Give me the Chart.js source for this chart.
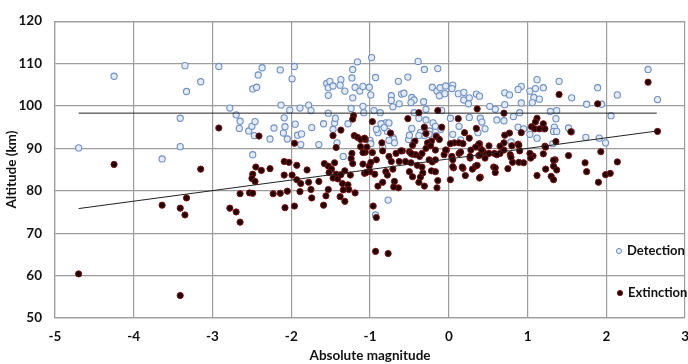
<!DOCTYPE html>
<html>
<head>
<meta charset="utf-8">
<script src="https://cdn.jsdelivr.net/npm/chart.js@4.4.0/dist/chart.umd.min.js"></script>
<style>
html,body{margin:0;padding:0;overflow:hidden;background:#fff;width:688px;height:364px;}
canvas{display:block;}
</style>
</head>
<body>
<canvas id="c" width="700" height="364"></canvas>
<script>
const xTicks = [-5, -4, -3, -2, -1, 0, 1, 2, 3];
const yTicks = [50, 60, 70, 80, 90, 100, 110, 120];
const seriesNames = ['Detection', 'Extinction'];

const detX = [-4.70,-4.25,-3.35,-2.92,-3.15,-3.33,-2.78,-2.70,-2.65,-2.66,-2.54,-3.41,-3.41,-3.64,-1.16,-1.22,-2.37,-2.42,-2.14,-1.96,
-1.99,-2.49,-2.44,-2.50,-2.46,-2.47,-2.27,-2.22,-2.13,-2.09,-2.08,-2.10,-2.05,-2.02,-1.95,-1.92,-1.87,-1.89,-1.78,-1.75,
-1.74,-1.88,-1.65,-1.59,-1.53,-1.47,-1.45,-1.44,-1.42,-1.28,-1.24,-1.09,-1.55,-1.51,-1.53,-1.47,-1.53,-1.37,-1.38,-1.32,
-1.23,-1.19,-1.13,-1.09,-1.22,-1.08,-0.98,-0.39,-0.31,-0.14,-0.93,-0.52,-0.64,-1.01,-0.99,-0.73,-0.73,-0.60,-0.57,-0.63,
-0.71,-0.47,-0.44,-0.48,-0.32,-0.21,-0.15,-0.11,-0.12,-0.05,-0.04,0.05,0.04,0.12,0.19,0.19,0.26,0.25,0.35,0.39,
0.52,0.59,0.71,0.71,0.61,0.26,0.40,0.42,0.46,0.37,0.02,0.13,0.05,0.15,-0.20,-0.17,-0.24,-0.29,-0.38,-0.44,
-0.47,-0.36,-0.31,-0.51,-0.80,-0.78,-0.90,-0.71,-1.00,-0.95,-0.87,-0.29,-0.09,1.12,1.40,1.89,2.14,0.92,0.88,1.03,
1.10,1.20,0.77,1.08,1.15,1.06,0.92,1.56,1.75,1.94,1.29,1.37,0.90,0.82,1.36,2.06,0.70,0.88,0.95,1.20,
1.34,1.33,1.37,1.52,1.56,1.03,1.12,0.79,1.32,1.74,1.91,1.99,2.53,2.65,-0.77,-0.93,-2.49,-1.34,-0.92,-0.86,
-0.82,-0.76,-0.99,-0.84,-0.70,-0.69,-0.76,-0.50,-0.38,-0.25,-0.16,-0.10];
const detY = [90.1,107.0,109.5,109.3,105.7,103.4,99.5,97.9,96.4,94.7,94.1,97.1,90.4,87.5,110.4,108.6,109.0,107.3,108.5,109.3,
106.4,104.0,104.4,95.2,96.3,93.0,92.2,94.8,100.2,97.2,95.1,93.6,92.2,99.0,95.7,93.1,93.4,99.5,100.2,98.9,
94.9,90.9,90.9,95.8,98.3,94.5,96.0,97.1,91.3,95.8,99.4,99.9,105.3,105.8,104.3,104.7,102.5,106.2,104.9,103.5,
106.6,104.4,103.5,104.6,101.9,98.4,111.4,110.5,108.6,108.8,106.7,106.8,105.8,104.4,102.6,102.4,101.3,102.8,103.0,100.5,
99.8,102.0,101.4,100.8,101.0,104.4,103.5,104.3,102.4,102.9,104.7,104.9,104.1,102.9,103.2,101.4,101.9,100.5,102.8,102.3,
99.9,99.2,103.1,100.3,96.7,97.3,97.1,96.2,94.6,93.7,97.1,95.2,93.3,92.0,96.0,95.2,94.1,96.7,97.1,98.4,
94.7,93.7,93.0,92.1,96.0,94.0,93.7,92.6,91.9,98.9,98.4,99.2,98.9,106.2,105.8,104.3,102.6,104.6,103.9,103.5,
104.1,104.3,102.6,102.0,101.6,100.8,100.7,101.9,100.4,100.4,98.7,98.9,98.4,97.5,97.0,97.7,96.5,95.0,94.6,94.6,
95.0,94.0,94.0,94.8,93.9,93.3,92.4,91.5,91.1,92.6,92.4,91.3,108.6,101.5,77.8,74.3,88.5,88.1,94.5,95.8,
94.9,96.0,91.1,90.3,92.2,91.3,91.9,93.1,93.0,93.3,93.0,94.5];

const extX = [-2.92,-4.25,-3.15,-3.64,-3.41,-3.35,-3.33,-4.70,-3.41,-2.78,-2.70,-2.65,-2.65,-2.41,-1.96,-1.21,-1.22,-1.37,-1.47,-1.20,
-1.16,-1.12,-1.06,-0.38,-0.14,0.36,0.70,0.12,-0.52,-0.97,-0.31,-0.09,0.35,-0.74,0.20,-0.29,-0.16,0.26,-0.12,-0.43,
-0.22,-0.85,-1.07,-0.27,0.07,0.13,0.39,0.51,0.70,1.40,1.89,1.12,1.10,1.20,1.05,1.09,1.15,1.22,0.77,0.92,
0.71,1.55,1.36,0.88,1.22,2.53,2.65,1.23,1.93,1.73,2.14,1.75,1.90,1.99,2.05,1.52,1.12,1.23,1.33,1.37,
1.30,1.33,1.20,1.07,1.03,1.35,0.90,0.89,0.80,0.70,0.58,0.40,0.38,0.18,0.02,0.04,0.06,0.02,0.18,0.21,
0.30,0.34,0.40,0.38,0.44,0.46,0.27,0.13,0.59,0.57,0.75,0.81,0.89,0.95,0.78,0.65,0.79,1.04,1.33,-0.97,
-0.92,-1.01,-1.00,-1.07,-0.90,-0.84,-0.80,-0.78,-0.76,-0.73,-0.71,-0.69,-0.64,-0.70,-0.63,-0.59,-0.55,-0.50,-0.46,-0.48,
-0.46,-0.42,-0.37,-0.40,-0.34,-0.33,-0.36,-0.31,-0.25,-0.21,-0.22,-0.29,-0.23,-0.17,-0.14,-0.15,-0.17,-0.03,-0.06,0.05,
0.05,0.15,0.17,0.27,0.36,0.34,0.40,0.39,0.42,0.51,0.59,0.65,-0.50,-0.67,-0.84,-1.06,-0.46,-2.09,-2.03,-2.09,
-1.99,-2.27,-2.38,-2.45,-2.49,-2.50,-2.46,-2.53,-2.49,-2.23,-2.14,-2.05,-2.08,-1.96,-1.89,-1.93,-1.88,-1.80,-1.78,-1.75,
-1.74,-1.65,-1.58,-1.53,-1.49,-1.52,-1.43,-1.47,-1.41,-1.53,-1.56,-1.59,-1.35,-1.28,-1.27,-1.34,-1.38,-1.32,-1.19,-1.25,
-1.37,-1.23,-1.24,-1.43,-1.12,-1.09,-1.05,-1.09,-0.96,-0.92,-0.93,-0.77,-0.38,-1.04,-0.17,-0.48,-0.61,-0.34,-0.04,-1.45,
-1.93,-1.32,-1.22,-0.99,-0.94,0.28,0.61];
const extY = [94.8,86.2,85.1,76.6,75.9,74.3,78.3,60.4,55.3,75.9,75.0,79.3,72.6,92.9,91.2,97.7,96.9,94.3,93.0,93.0,
92.6,92.1,92.1,98.4,98.9,99.3,98.3,97.0,97.0,96.3,95.0,95.0,94.7,93.6,93.7,93.5,92.8,92.4,92.1,91.7,
91.7,91.3,92.4,91.3,91.3,91.3,91.1,90.6,91.3,102.7,100.5,97.1,96.2,95.8,95.1,94.6,94.6,94.6,93.6,93.7,
93.1,93.9,91.6,91.0,90.5,105.6,94.0,90.3,89.2,86.6,86.8,84.5,82.0,83.8,84.1,88.3,83.6,85.1,85.8,84.9,
83.4,82.6,88.7,88.2,88.8,87.3,89.4,90.7,90.6,89.6,88.8,90.0,91.0,91.1,91.1,88.1,85.4,82.6,85.3,83.6,
85.1,85.8,83.2,88.3,89.1,87.7,87.7,88.8,84.3,85.6,85.2,86.7,86.7,86.6,88.5,90.5,87.9,87.7,87.2,89.0,
87.3,85.8,84.5,84.1,81.1,82.0,84.5,83.7,88.1,86.9,85.1,82.2,80.7,80.9,86.9,89.4,86.9,84.5,83.3,86.6,
88.6,88.5,88.1,86.0,85.6,84.2,83.2,81.1,87.3,86.8,84.7,90.0,90.6,84.5,82.4,80.7,87.3,89.6,88.5,87.3,
85.7,89.1,85.6,88.1,86.0,90.3,88.5,83.0,89.6,88.8,85.4,88.8,89.2,88.8,89.4,89.1,90.7,86.9,86.7,83.7,
83.7,85.2,84.8,85.6,83.9,82.9,82.2,79.5,79.4,79.3,79.4,79.9,76.0,76.4,79.8,82.6,81.7,84.9,82.0,80.3,
78.3,82.2,86.4,85.8,85.1,84.3,83.9,83.0,82.8,80.3,78.8,76.6,81.7,81.4,80.3,80.2,78.6,77.5,79.5,83.7,
83.8,88.8,87.6,90.2,90.4,86.3,84.3,89.0,76.4,73.7,65.7,65.2,82.0,90.3,89.6,88.8,89.4,88.8,89.6,86.6,
86.0,84.7,86.4,86.7,83.9,89.6,88.5];

const meanLineX = [-4.70, 2.64];
const meanLineY = [98.3, 98.3];
const fitLineX = [-4.70, 2.65];
const fitLineY = [75.8, 94.1];

const pts = (xs, ys) => xs.map((x, i) => ({x: x, y: ys[i]}));

const detStyle = {bg: '#e3ecf7', border: '#6f8fc2'};
const extStyle = {bg: '#250000', border: '#7a1414'};
const FONT = 'Lato, "Liberation Sans", sans-serif';
const TXT = '#111';
const GRID = '#9c9c9c';

const legendPlugin = {
  id: 'inLegend',
  afterDraw(chart) {
    const ctx = chart.ctx;
    ctx.save();
    ctx.font = 'bold 13px ' + FONT;
    ctx.textBaseline = 'middle';
    ctx.textAlign = 'left';
    ctx.beginPath();
    ctx.arc(619, 251, 2.6, 0, Math.PI * 2);
    ctx.fillStyle = detStyle.bg; ctx.fill();
    ctx.lineWidth = 1; ctx.strokeStyle = detStyle.border; ctx.stroke();
    ctx.fillStyle = TXT;
    ctx.fillText(seriesNames[0], 627, 251);
    ctx.beginPath();
    ctx.arc(620, 293, 2.6, 0, Math.PI * 2);
    ctx.fillStyle = extStyle.bg; ctx.fill();
    ctx.strokeStyle = extStyle.border; ctx.stroke();
    ctx.fillStyle = TXT;
    ctx.fillText(seriesNames[1], 628, 293);
    ctx.restore();
  }
};

const tickFont = {family: FONT, size: 13.5, weight: 'bold'};

new Chart(document.getElementById('c'), {
  type: 'scatter',
  data: {
    datasets: [
      {type: 'line', data: pts(meanLineX, meanLineY), borderColor: '#222', borderWidth: 1, pointRadius: 0, fill: false},
      {type: 'line', data: pts(fitLineX, fitLineY), borderColor: '#222', borderWidth: 1, pointRadius: 0, fill: false},
      {label: seriesNames[1], data: pts(extX, extY), backgroundColor: extStyle.bg, borderColor: extStyle.border, borderWidth: 1, pointRadius: 3.1},
      {label: seriesNames[0], data: pts(detX, detY), backgroundColor: detStyle.bg, borderColor: detStyle.border, borderWidth: 1.1, pointRadius: 3.1}
    ]
  },
  options: {
    responsive: false,
    animation: false,
    events: [],
    layout: {padding: {left: 0, right: 11, top: 9, bottom: 0}},
    plugins: {legend: {display: false}, tooltip: {enabled: false}},
    scales: {
      x: {
        type: 'linear', min: -5, max: 3,
        afterBuildTicks(s) { s.ticks = xTicks.map(v => ({value: v})); },
        afterFit(s) { s.height = 46; },
        grid: {color: GRID, lineWidth: 1.2, drawTicks: false},
        border: {color: GRID, width: 1.2},
        ticks: {padding: 11, color: TXT, font: tickFont, maxRotation: 0},
        title: {display: true, text: 'Absolute magnitude', color: TXT, font: tickFont, padding: {top: 0, bottom: 0}}
      },
      y: {
        type: 'linear', min: 50, max: 120,
        afterBuildTicks(s) { s.ticks = yTicks.map(v => ({value: v})); },
        afterFit(s) { s.width = 55; },
        grid: {color: GRID, lineWidth: 1.2, drawTicks: false},
        border: {color: GRID, width: 1.2},
        ticks: {padding: 13, color: TXT, font: tickFont},
        title: {display: true, text: 'Altitude (km)', color: TXT, font: tickFont, padding: {top: 4, bottom: 0}}
      }
    }
  },
  plugins: [legendPlugin, {
    id: 'topBorder',
    afterDraw(chart) {
      const a = chart.chartArea, ctx = chart.ctx;
      ctx.save(); ctx.strokeStyle = GRID; ctx.lineWidth = 1.2;
      ctx.beginPath(); ctx.moveTo(a.left, a.top + 0.5); ctx.lineTo(a.right, a.top + 0.5); ctx.stroke();
      ctx.restore();
    }
  }]
});
</script>
</body>
</html>
